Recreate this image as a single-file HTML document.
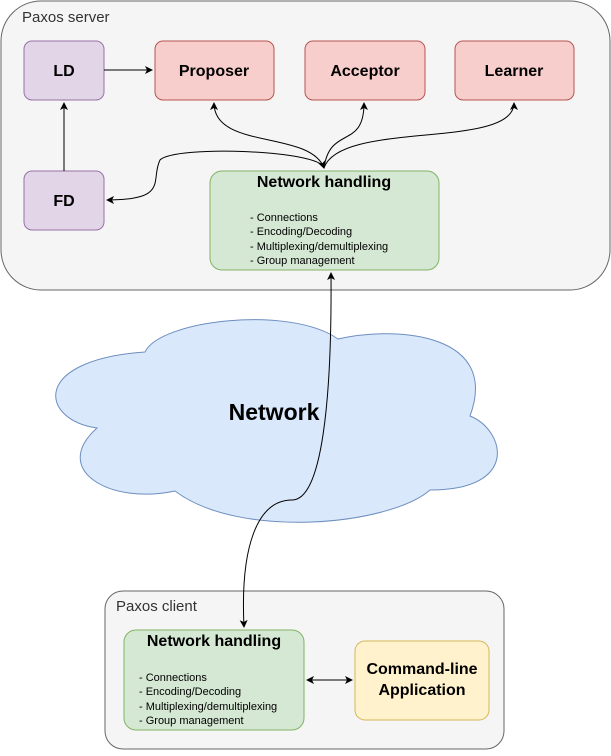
<!DOCTYPE html>
<html><head><meta charset="utf-8"><style>
html,body{margin:0;padding:0;background:#fff;}
body{width:611px;height:751px;overflow:hidden;font-family:"Liberation Sans",sans-serif;}
</style></head><body>
<svg width="611" height="751" viewBox="0 0 611 751" xmlns="http://www.w3.org/2000/svg" font-family="Liberation Sans, sans-serif">
<defs>
<marker id="a" markerWidth="10" markerHeight="10" refX="8" refY="5" orient="auto" markerUnits="userSpaceOnUse">
<path d="M1,1 L9,5 L1,9 L3,5 Z" fill="#000"/></marker>
<marker id="as" markerWidth="10" markerHeight="10" refX="2" refY="5" orient="auto" markerUnits="userSpaceOnUse">
<path d="M9,1 L1,5 L9,9 L7,5 Z" fill="#000"/></marker>
</defs>
<rect x="1" y="1" width="609" height="289" rx="40" fill="#f5f5f5" stroke="#666"/>
<text x="22" y="22" font-size="15" fill="#333">Paxos server</text>
<rect x="24" y="41" width="80" height="59" rx="8" fill="#e1d5e7" stroke="#9673a6"/>
<text x="64" y="76" font-size="16" font-weight="bold" text-anchor="middle">LD</text>
<rect x="24" y="171" width="80" height="59" rx="8" fill="#e1d5e7" stroke="#9673a6"/>
<text x="64" y="206" font-size="16" font-weight="bold" text-anchor="middle">FD</text>
<rect x="155" y="41" width="119" height="59" rx="8" fill="#f8cecc" stroke="#b85450"/>
<text x="214" y="76" font-size="16" font-weight="bold" text-anchor="middle">Proposer</text>
<rect x="305" y="41" width="120" height="59" rx="8" fill="#f8cecc" stroke="#b85450"/>
<text x="365" y="76" font-size="16" font-weight="bold" text-anchor="middle">Acceptor</text>
<rect x="455" y="41" width="119" height="59" rx="8" fill="#f8cecc" stroke="#b85450"/>
<text x="514" y="76" font-size="16" font-weight="bold" text-anchor="middle">Learner</text>
<rect x="210" y="171" width="229" height="99" rx="12" fill="#d5e8d4" stroke="#82b366"/>
<text x="324" y="187" font-size="16" font-weight="bold" text-anchor="middle">Network handling</text>
<g font-size="11"><text x="250" y="221">- Connections</text><text x="250" y="235">- Encoding/Decoding</text><text x="250" y="250">- Multiplexing/demultiplexing</text><text x="250" y="264">- Group management</text></g>
<path d="M104,70 L152,70" stroke="#000" fill="none" marker-end="url(#a)"/>
<path d="M64,171 L64,103" stroke="#000" fill="none" marker-end="url(#a)"/>
<path d="M214,103 C214,150 310,130 324,168" stroke="#000" fill="none" marker-start="url(#as)" marker-end="url(#a)"/>
<path d="M364,103 C364,150 330,125 324,168" stroke="#000" fill="none" marker-start="url(#as)"/>
<path d="M514,103 C514,150 340,120 324,168" stroke="#000" fill="none" marker-start="url(#as)"/>
<path d="M107,200 C170,200 150,180 160,160 C175,145 320,150 324,168" stroke="#000" fill="none" marker-start="url(#as)"/>
<path d="M145,352 C160,320 290,305 338,339 C400,325 500,335 470,416 C505,430 520,490 430,490 C390,525 240,540 175,491 C110,505 50,470 97,428 C40,420 30,360 145,352 Z" fill="#dae8fc" stroke="#6c8ebf"/>
<text x="274" y="420" font-size="23" font-weight="bold" text-anchor="middle">Network</text>
<rect x="105" y="591" width="399" height="158" rx="18" fill="#f5f5f5" stroke="#666"/>
<text x="116" y="611" font-size="15" fill="#333">Paxos client</text>
<path d="M331,273 C332,400 322,500 292,500 C258,500 240,545 244,627" stroke="#000" fill="none" marker-start="url(#as)" marker-end="url(#a)"/>
<rect x="124" y="630" width="180" height="100" rx="12" fill="#d5e8d4" stroke="#82b366"/>
<text x="214" y="646" font-size="16" font-weight="bold" text-anchor="middle">Network handling</text>
<g font-size="11"><text x="139" y="681">- Connections</text><text x="139" y="695">- Encoding/Decoding</text><text x="139" y="710">- Multiplexing/demultiplexing</text><text x="139" y="724">- Group management</text></g>
<rect x="355" y="641" width="134" height="79" rx="10" fill="#fff2cc" stroke="#d6b656"/>
<text x="422" y="674" font-size="16" font-weight="bold" text-anchor="middle">Command-line</text>
<text x="422" y="695" font-size="16" font-weight="bold" text-anchor="middle">Application</text>
<path d="M307,680 L352,680" stroke="#000" fill="none" marker-start="url(#as)" marker-end="url(#a)"/>
</svg>
</body></html>
